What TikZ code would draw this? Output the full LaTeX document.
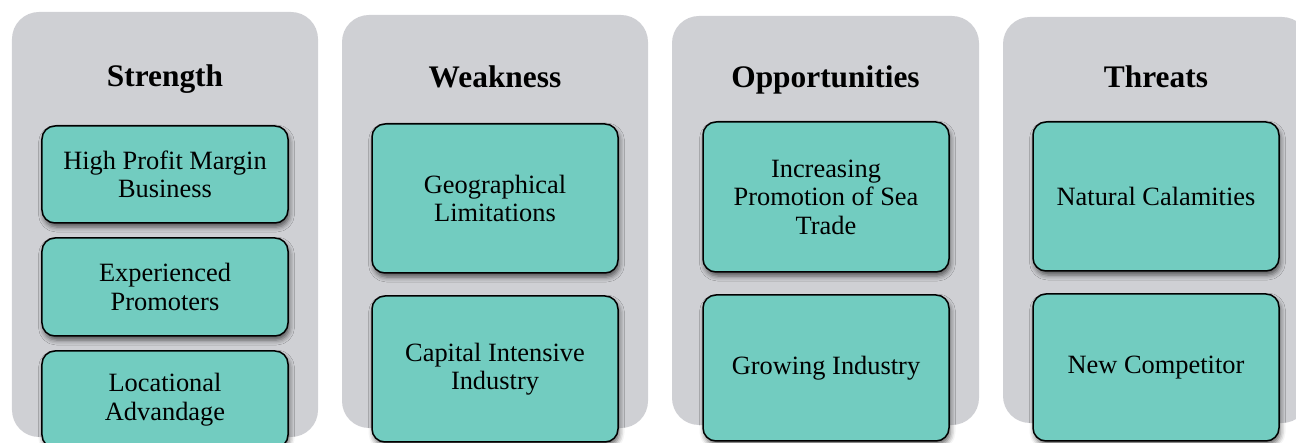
\documentclass[tikz,border=0pt]{standalone}
\usepackage{fontspec}
\setmainfont{Liberation Serif}
\usetikzlibrary{shadows.blur}
\definecolor{panelgray}{HTML}{CFD0D4}
\definecolor{boxteal}{HTML}{72CCC0}
\begin{document}
\begin{tikzpicture}[x=1bp,y=-1bp,
  panel/.style={draw=none, fill=panelgray, rounded corners=27bp, inner sep=0pt},
  item/.style={draw=black, line width=1.5bp, fill=boxteal, rounded corners=13bp,
    blur shadow={shadow xshift=1.5bp, shadow yshift=-4bp, shadow blur radius=5bp, shadow opacity=60},
    align=center, inner sep=0pt, minimum width=246bp,
    font=\fontsize{26.5}{28.5}\selectfont},
  title/.style={anchor=base, inner sep=0pt, font=\fontsize{31.5}{36}\selectfont\bfseries}]
\useasboundingbox (0,0) rectangle (1296,443);
\clip (0,0) rectangle (1296,443);
% panels
\node[panel, minimum width=306bp, minimum height=425bp] (p1) at (165,224.5) {};
\node[panel, minimum width=306bp, minimum height=413bp] (p2) at (495,221.5) {};
\node[panel, minimum width=307bp, minimum height=409bp] (p3) at (825.5,220.5) {};
\node[panel, minimum width=306bp, minimum height=406bp] (p4) at (1156,220) {};
% titles
\node[title] (t-s) at (165,86.5) {Strength};
\node[title] (t-w) at (495,87.5) {Weakness};
\node[title] (t-o) at (825.5,87.5) {Opportunities};
\node[title] (t-t) at (1156,87.5) {Threats};
% strength
\node[item, minimum height=97bp] (s1) at (165,174.5) {High Profit Margin\\Business};
\node[item, minimum height=98bp] (s2) at (165,287) {Experienced\\Promoters};
\node[item, minimum height=97bp] (s3) at (165,399.5) {Locational\\Advandage};
% weakness
\node[item, minimum height=149bp] (w1) at (495,198.5) {Geographical\\Limitations};
\node[item, minimum height=146bp] (w2) at (495,369) {Capital Intensive\\Industry};
% opportunities
\node[item, minimum height=150bp] (o1) at (826,197) {Increasing\\Promotion of Sea\\Trade};
\node[item, minimum height=146bp] (o2) at (826,368) {Growing Industry};
% threats
\node[item, minimum height=149bp] (h1) at (1156,196.5) {Natural Calamities};
\node[item, minimum height=147bp] (h2) at (1156,367.5) {New Competitor};
\end{tikzpicture}
\end{document}
